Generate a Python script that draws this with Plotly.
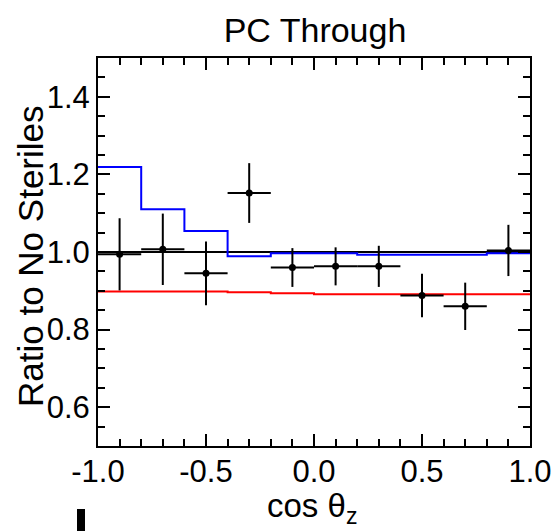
import plotly.graph_objects as go

# bin edges and centres in cos theta_z
bin_edges = [-1.0, -0.8, -0.6, -0.4, -0.2, 0.0, 0.2, 0.4, 0.6, 0.8, 1.0]
bin_centers = [-0.9, -0.7, -0.5, -0.3, -0.1, 0.1, 0.3, 0.5, 0.7, 0.9]

# data ratio points and errors
data_ratio = [0.994, 1.007, 0.945, 1.152, 0.960, 0.963, 0.963, 0.888, 0.860, 1.004]
data_err = [0.093, 0.092, 0.082, 0.077, 0.050, 0.049, 0.053, 0.056, 0.061, 0.066]
half_width = [0.1] * 10

# blue model (per bin)
blue_ratio = [1.219, 1.110, 1.054, 0.989, 0.997, 0.997, 0.993, 0.993, 0.993, 0.997]
# red model (per bin)
red_ratio = [0.898, 0.898, 0.898, 0.896, 0.894, 0.891, 0.891, 0.891, 0.891, 0.891]
# reference (no steriles)
null_ratio = [1.0] * 10

fig = go.Figure()

def step(vals, color, width=2):
    return go.Scatter(x=bin_edges, y=vals + [vals[-1]], mode="lines",
                      line=dict(color=color, width=width, shape="hv"),
                      hoverinfo="skip", showlegend=False)

fig.add_trace(step(null_ratio, "black"))
fig.add_trace(step(red_ratio, "#ff0000"))
fig.add_trace(step(blue_ratio, "#0000ff"))

fig.add_trace(go.Scatter(
    x=bin_centers, y=data_ratio, mode="markers",
    marker=dict(color="black", size=7),
    error_y=dict(type="data", array=data_err, color="black", thickness=2, width=0),
    error_x=dict(type="data", array=half_width, color="black", thickness=2, width=0),
    showlegend=False))

font_family = "Liberation Sans, Arial, sans-serif"
plot_w, plot_h = 432, 388

fig.update_layout(
    width=553, height=531,
    margin=dict(l=98, r=23, t=58, b=85, autoexpand=False),
    paper_bgcolor="white", plot_bgcolor="white",
    font=dict(family=font_family, color="black"),
    title=dict(text="PC Through", x=315 / 553, xanchor="center", y=1 - 30 / 531, yanchor="middle",
               font=dict(size=34, family=font_family, color="black")),
    xaxis=dict(
        range=[-1.0, 1.0], tickvals=[-1.0, -0.5, 0.0, 0.5, 1.0],
        ticktext=["-1.0", "-0.5", "0.0", "0.5", "1.0"],
        ticks="inside", ticklen=12, tickwidth=1.5, tickcolor="black",
        minor=dict(dtick=0.1, tick0=-1.0, ticks="inside", ticklen=7, tickwidth=1.5, tickcolor="black"),
        showline=True, linecolor="black", linewidth=2, mirror="allticks",
        showgrid=False, zeroline=False, automargin=False, ticklabelstandoff=-3,
        tickfont=dict(size=31, family=font_family),
    ),
    yaxis=dict(
        range=[0.5, 1.5], tickvals=[0.6, 0.8, 1.0, 1.2, 1.4],
        ticktext=["0.6", "0.8", "1.0", "1.2", "1.4"],
        ticks="inside", ticklen=12, tickwidth=1.5, tickcolor="black",
        minor=dict(dtick=0.05, tick0=0.5, ticks="inside", ticklen=7, tickwidth=1.5, tickcolor="black"),
        showline=True, linecolor="black", linewidth=2, mirror="allticks",
        showgrid=False, zeroline=False, automargin=False,
        tickfont=dict(size=31, family=font_family),
    ),
)

# axis titles placed as annotations
fig.add_annotation(text="cos θ<sub>z</sub>", xref="paper", yref="paper",
                   x=(312 - 98) / plot_w, y=-(508 - 446) / plot_h,
                   xanchor="center", yanchor="middle", showarrow=False,
                   font=dict(size=33, family=font_family, color="black"))
fig.add_annotation(text="Ratio to No Steriles", xref="paper", yref="paper",
                   x=-(98 - 30) / plot_w, y=(446 - 256) / plot_h, textangle=-90,
                   xanchor="center", yanchor="middle", showarrow=False,
                   font=dict(size=35, family=font_family, color="black"))

# small cropped mark at the bottom-left of the image
fig.add_shape(type="rect", xref="paper", yref="paper",
              x0=(77 - 98) / plot_w, x1=(85 - 98) / plot_w,
              y0=-(509 - 446) / plot_h, y1=-(531 - 446) / plot_h,
              fillcolor="black", line=dict(width=0))

fig.write_html("out.html")
